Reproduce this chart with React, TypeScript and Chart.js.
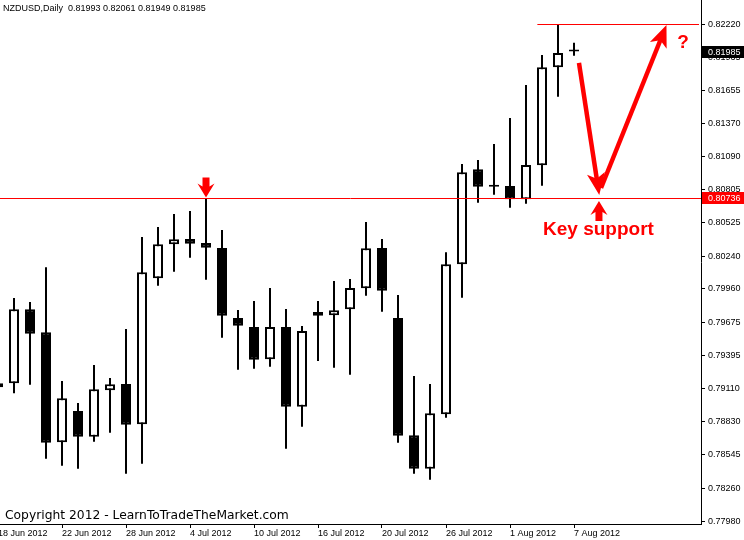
import React, { useEffect, useRef } from "react";
import { Chart, registerables } from "chart.js";

Chart.register(...registerables);

// ---------------- data ----------------
const chartTitle = "NZDUSD,Daily";
const copyrightText = "Copyright 2012 - LearnToTradeTheMarket.com";

const dates = [
  "18 Jun 2012", "19 Jun 2012", "20 Jun 2012", "21 Jun 2012", "22 Jun 2012",
  "25 Jun 2012", "26 Jun 2012", "27 Jun 2012", "28 Jun 2012", "29 Jun 2012",
  "2 Jul 2012", "3 Jul 2012", "4 Jul 2012", "5 Jul 2012", "6 Jul 2012",
  "9 Jul 2012", "10 Jul 2012", "11 Jul 2012", "12 Jul 2012", "13 Jul 2012",
  "16 Jul 2012", "17 Jul 2012", "18 Jul 2012", "19 Jul 2012", "20 Jul 2012",
  "23 Jul 2012", "24 Jul 2012", "25 Jul 2012", "26 Jul 2012", "27 Jul 2012",
  "30 Jul 2012", "31 Jul 2012", "1 Aug 2012", "2 Aug 2012", "3 Aug 2012",
  "6 Aug 2012", "7 Aug 2012",
];

const opens = [
  0.79121, 0.79155, 0.79786, 0.7959, 0.78652, 0.78919, 0.787, 0.79095, 0.79149, 0.78805,
  0.80051, 0.80341, 0.80386, 0.80352, 0.80309, 0.79712, 0.79635, 0.7936, 0.79635, 0.78956,
  0.79763, 0.79735, 0.79786, 0.79966, 0.80309, 0.79712, 0.78712, 0.78427, 0.78891, 0.8017,
  0.80981, 0.80847, 0.80838, 0.80725, 0.81015, 0.81851, 0.81993,
];
const highs = [
  0.79158, 0.79883, 0.79849, 0.80145, 0.79175, 0.78987, 0.79311, 0.792, 0.79618, 0.80403,
  0.80488, 0.80599, 0.80625, 0.80736, 0.80463, 0.7978, 0.79857, 0.79968, 0.79789, 0.79644,
  0.79857, 0.80028, 0.80045, 0.80531, 0.80386, 0.79908, 0.79217, 0.79149, 0.80273, 0.81026,
  0.8106, 0.81196, 0.81418, 0.817, 0.81956, 0.8222, 0.82061,
];
const lows = [
  0.79118, 0.7907, 0.79143, 0.78512, 0.78452, 0.78427, 0.78657, 0.78734, 0.78384, 0.78469,
  0.79988, 0.80107, 0.80227, 0.80039, 0.79544, 0.79271, 0.7928, 0.79297, 0.78597, 0.78785,
  0.79345, 0.79288, 0.79229, 0.79902, 0.79766, 0.78649, 0.78384, 0.78333, 0.78862, 0.79885,
  0.80696, 0.80764, 0.80653, 0.80687, 0.80841, 0.816, 0.81949,
];
const closes = [
  0.79155, 0.79786, 0.79578, 0.78649, 0.79027, 0.787, 0.79104, 0.79147, 0.78802, 0.80102,
  0.80341, 0.80384, 0.80346, 0.80312, 0.79732, 0.79647, 0.79357, 0.79635, 0.78956, 0.79601,
  0.79732, 0.79778, 0.79968, 0.80307, 0.79945, 0.78708, 0.78427, 0.78899, 0.8017, 0.80955,
  0.80832, 0.80832, 0.80725, 0.81017, 0.81851, 0.81973, 0.81985,
];

const yTickValues = [
  0.8222, 0.81935, 0.81655, 0.8137, 0.8109, 0.80805, 0.80525, 0.8024,
  0.7996, 0.79675, 0.79395, 0.7911, 0.7883, 0.78545, 0.7826, 0.7798,
];
const xTickIndices = [0, 4, 8, 12, 16, 20, 24, 28, 32, 36];

const supportLevel = 0.80736;
const resistanceLevel = 0.8222;
const resistanceStartIdx = 33.71;
const markerArrowIdx = 13;
const downArrowFrom = [36.31, 0.81888];
const downArrowTo = [37.58, 0.80761];
const upArrowFrom = [37.69, 0.80821];
const upArrowTo = [41.78, 0.82212];
const supportArrow = [37.56, 0.8071];
const keySupportText = { text: "Key support", idx: 37.53, price: 0.8042 };
const questionText = { text: "?", idx: 42.81, price: 0.82015 };

// ---------------- view range ----------------
const yMin = 0.77955;
const yMax = 0.82425;
const xMin = 0.125;
const xMax = 43.9375;

const RED = "#ff0000";
const AXIS_FONT = "Liberation Sans";

function drawMarker(ctx: CanvasRenderingContext2D, x: number, tipY: number, dir: number) {
  // dir = 1 -> pointing down, dir = -1 -> pointing up
  const p = (dx: number, dy: number) => [x + dx, tipY - dir * dy];
  const pts = [
    p(0, 0), p(-8.5, 14), p(-3.5, 11), p(-3.5, 20), p(3.5, 20), p(3.5, 11), p(8.5, 14),
  ];
  ctx.beginPath();
  ctx.moveTo(pts[0][0], pts[0][1]);
  for (let i = 1; i < pts.length; i++) ctx.lineTo(pts[i][0], pts[i][1]);
  ctx.closePath();
  ctx.fill();
}

function drawArrow(ctx: CanvasRenderingContext2D, x1: number, y1: number, x2: number, y2: number) {
  const ang = Math.atan2(y2 - y1, x2 - x1);
  const ux = Math.cos(ang), uy = Math.sin(ang);
  const px = -uy, py = ux;
  const headLen = 22, headHalf = 9;
  ctx.lineWidth = 4.5;
  ctx.lineCap = "butt";
  ctx.beginPath();
  ctx.moveTo(x1, y1);
  ctx.lineTo(x2 - ux * headLen * 0.7, y2 - uy * headLen * 0.7);
  ctx.stroke();
  ctx.beginPath();
  ctx.moveTo(x2, y2);
  ctx.lineTo(x2 - ux * headLen + px * headHalf, y2 - uy * headLen + py * headHalf);
  ctx.lineTo(x2 - ux * headLen * 0.75, y2 - uy * headLen * 0.75);
  ctx.lineTo(x2 - ux * headLen - px * headHalf, y2 - uy * headLen - py * headHalf);
  ctx.closePath();
  ctx.fill();
}

function axisBox(ctx: CanvasRenderingContext2D, chart: any, value: number, bg: string) {
  const y = chart.scales.y;
  const cy = Math.round(y.getPixelForValue(value));
  ctx.fillStyle = bg;
  ctx.fillRect(702, cy - 6, 42, 12);
  ctx.fillStyle = "#ffffff";
  ctx.font = `9px '${AXIS_FONT}'`;
  ctx.textAlign = "left";
  ctx.textBaseline = "middle";
  ctx.fillText(value.toFixed(5), 708, cy + 0.5);
}

const annotationPlugin = {
  id: "mt4Annotations",
  afterDatasetsDraw(chart: any) {
    const { ctx, chartArea, scales } = chart;
    const x = scales.x, y = scales.y;
    ctx.save();
    ctx.strokeStyle = RED;
    ctx.fillStyle = RED;
    ctx.lineWidth = 1;
    // support line
    const sy = Math.round(y.getPixelForValue(supportLevel)) + 0.5;
    ctx.beginPath();
    ctx.moveTo(chartArea.left, sy);
    ctx.lineTo(chartArea.right, sy);
    ctx.stroke();
    // resistance line
    const ry = Math.round(y.getPixelForValue(resistanceLevel)) + 0.5;
    ctx.beginPath();
    ctx.moveTo(x.getPixelForValue(resistanceStartIdx), ry);
    ctx.lineTo(chartArea.right - 2, ry);
    ctx.stroke();
    // marker arrow above the touching candle
    drawMarker(ctx, x.getPixelForValue(markerArrowIdx), y.getPixelForValue(highs[markerArrowIdx]) - 0.5, 1);
    // marker arrow under support
    drawMarker(ctx, x.getPixelForValue(supportArrow[0]), y.getPixelForValue(supportArrow[1]), -1);
    // big arrows
    drawArrow(ctx, x.getPixelForValue(downArrowFrom[0]), y.getPixelForValue(downArrowFrom[1]),
      x.getPixelForValue(downArrowTo[0]), y.getPixelForValue(downArrowTo[1]));
    drawArrow(ctx, x.getPixelForValue(upArrowFrom[0]), y.getPixelForValue(upArrowFrom[1]),
      x.getPixelForValue(upArrowTo[0]), y.getPixelForValue(upArrowTo[1]));
    // texts
    ctx.font = "bold 19px 'Liberation Sans'";
    ctx.textAlign = "center";
    ctx.textBaseline = "alphabetic";
    ctx.fillText(keySupportText.text, x.getPixelForValue(keySupportText.idx), y.getPixelForValue(keySupportText.price));
    ctx.fillText(questionText.text, x.getPixelForValue(questionText.idx), y.getPixelForValue(questionText.price));
    ctx.restore();
  },
  afterDraw(chart: any) {
    const { ctx } = chart;
    ctx.save();
    // title
    ctx.fillStyle = "#000000";
    ctx.font = `9px '${AXIS_FONT}'`;
    ctx.textAlign = "left";
    ctx.textBaseline = "alphabetic";
    const last = closes.length - 1;
    const titleText = `${chartTitle}  ${opens[last].toFixed(5)} ${highs[last].toFixed(5)} ${lows[last].toFixed(5)} ${closes[last].toFixed(5)}`;
    ctx.fillText(titleText, 3, 11);
    // copyright
    ctx.font = "12.3px 'DejaVu Sans'";
    ctx.fillText(copyrightText, 5, 519);
    // axis boxes
    axisBox(ctx, chart, closes[last], "#000000");
    axisBox(ctx, chart, supportLevel, RED);
    ctx.restore();
  },
};

function isBull(i: number) {
  return closes[i] > opens[i];
}

export default function App() {
  const canvasRef = useRef<HTMLCanvasElement | null>(null);

  useEffect(() => {
    const canvas = canvasRef.current;
    if (!canvas) return;

    const bodyData = dates.map((_, i) => ({ x: i, y: [opens[i], closes[i]] }));
    const wickData = dates.map((_, i) => ({ x: i, y: [lows[i], highs[i]] }));

    const chart = new Chart(canvas, {
      type: "bar",
      data: {
        datasets: [
          {
            label: "body",
            data: bodyData as any,
            order: 0,
            grouped: false,
            barThickness: 10,
            minBarLength: 2,
            borderWidth: 2,
            borderSkipped: false,
            inflateAmount: 0,
            borderColor: "#000000",
            backgroundColor: dates.map((_, i) => (isBull(i) ? "#ffffff" : "#000000")),
          } as any,
          {
            label: "wick",
            data: wickData as any,
            order: 1,
            grouped: false,
            barThickness: 2,
            borderWidth: 0,
            inflateAmount: 0,
            backgroundColor: "#000000",
          } as any,
        ],
      },
      options: {
        animation: false,
        responsive: false,
        devicePixelRatio: 1,
        events: [],
        layout: { padding: 0 },
        plugins: {
          legend: { display: false },
          tooltip: { enabled: false },
          title: { display: false },
        },
        scales: {
          x: {
            type: "linear",
            min: xMin,
            max: xMax,
            offset: false,
            position: "bottom",
            grid: {
              offset: false,
              drawOnChartArea: false,
              drawTicks: true,
              tickLength: 4,
              tickColor: "#000000",
            },
            border: { display: true, color: "#000000", width: 1 },
            ticks: {
              autoSkip: false,
              maxRotation: 0,
              minRotation: 0,
              align: "start",
              padding: 0,
              color: "#000000",
              font: { family: AXIS_FONT, size: 9 },
              callback: (v: any) => dates[Number(v)] ?? "",
            },
            afterBuildTicks: (scale: any) => {
              scale.ticks = xTickIndices.map((v) => ({ value: v }));
            },
            afterFit: (scale: any) => {
              scale.height = 16;
              scale.paddingLeft = 0;
              scale.paddingRight = 0;
            },
          } as any,
          y: {
            type: "linear",
            position: "right",
            min: yMin,
            max: yMax,
            grid: {
              drawOnChartArea: false,
              drawTicks: true,
              tickLength: 4,
              tickColor: "#000000",
            },
            border: { display: true, color: "#000000", width: 1 },
            ticks: {
              padding: 3,
              color: "#000000",
              font: { family: AXIS_FONT, size: 9 },
              callback: (v: any) => Number(v).toFixed(5),
            },
            afterBuildTicks: (scale: any) => {
              scale.ticks = yTickValues.map((v) => ({ value: v }));
            },
            afterFit: (scale: any) => {
              scale.width = 43;
              scale.paddingTop = 0;
              scale.paddingBottom = 0;
            },
          } as any,
        },
      },
      plugins: [annotationPlugin],
    });

    return () => chart.destroy();
  }, []);

  return (
    <div style={{ position: "absolute", left: 0, top: 0, width: 744, height: 540, background: "#ffffff", overflow: "hidden" }}>
      <canvas ref={canvasRef} width={744} height={540} style={{ display: "block" }} />
    </div>
  );
}
